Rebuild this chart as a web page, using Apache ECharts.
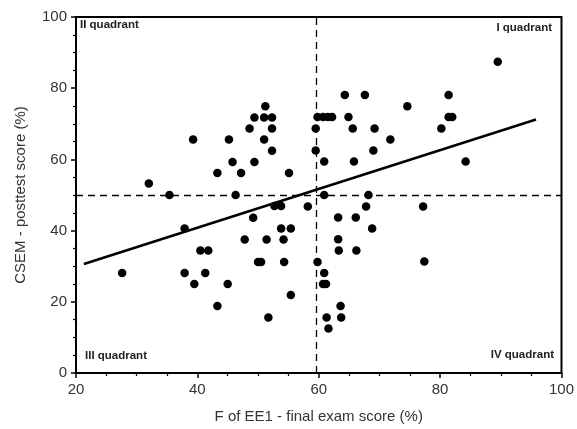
<!DOCTYPE html>
<html>
<head>
<meta charset="utf-8">
<script src="https://cdn.jsdelivr.net/npm/echarts@6/dist/echarts.min.js"></script>
<style>html,body{margin:0;padding:0;background:#fff}#c{width:577px;height:429px}</style>
</head>
<body>
<div id="c"></div>
<script>
const xValues = [27.6,32.0,35.4,37.9,37.9,39.3,39.5,40.5,41.8,41.3,43.3,43.3,45.0,45.2,45.8,46.3,47.2,47.8,48.6,49.2,49.4,49.4,50.0,50.5,51.0,51.0,51.2,51.4,51.7,52.3,52.3,52.3,52.7,53.8,53.8,54.2,54.3,55.1,55.4,55.4,58.2,
  59.5,59.5,59.8,59.8,60.7,61.5,62.2,60.9,60.9,60.9,60.7,61.2,61.3,61.6,63.2,63.2,63.3,63.6,63.7,64.3,64.9,65.6,65.8,66.1,66.2,67.6,67.8,68.2,68.8,69.0,69.2,71.8,74.6,77.2,77.4,80.2,81.4,81.4,82.0,84.2,89.5];
const yValues = [28.1,53.2,50.0,40.6,28.1,65.6,25.0,34.4,34.4,28.1,56.2,18.8,25.0,65.6,59.3,50.0,56.2,37.5,68.7,43.6,71.8,59.3,31.2,31.2,71.8,65.6,74.9,37.5,15.6,71.8,68.7,62.4,46.9,46.9,40.6,37.5,31.2,56.2,40.6,21.9,46.8,
  68.7,62.5,71.9,31.2,71.9,71.9,71.9,59.4,50.0,28.1,25.0,25.0,15.6,12.5,43.7,37.6,34.4,18.8,15.6,78.1,71.9,68.7,59.4,43.7,34.4,78.1,46.8,50.0,40.6,62.5,68.7,65.6,74.9,46.8,31.3,68.7,78.1,71.9,71.9,59.4,87.4];
const fitX = [21.3, 95.8];
const fitY = [30.6, 71.2];
const medianX = 59.6;
const medianY = 50;
const xTitle = 'F of EE1 - final exam score (%)';
const yTitle = 'CSEM - posttest score (%)';
const quadrantLabels = ['I quadrant','II quadrant','III quadrant','IV quadrant'];

const points = xValues.map((x,i)=>[x,yValues[i]]);
const fit = fitX.map((x,i)=>[x,fitY[i]]);

const chart = echarts.init(document.getElementById('c'), null, {renderer:'canvas'});
const FONT = 'Liberation Sans, Arial, sans-serif';
const axisCommon = {
  axisLine:{show:true,lineStyle:{color:'#000',width:2}},
  axisTick:{show:true,length:5,lineStyle:{color:'#000',width:1.5}},
  minorTick:{show:true,splitNumber:4,length:3,lineStyle:{color:'#000',width:1.2}},
  splitLine:{show:false},
  axisLabel:{color:'#333',fontSize:15,fontFamily:FONT,margin:9},
  nameTextStyle:{color:'#333',fontSize:15,fontFamily:FONT}
};
const qFont = 'bold 11.5px ' + FONT;
chart.setOption({
  animation:false,
  backgroundColor:'#fff',
  grid:{left:76,right:15,top:17,bottom:55,show:true,borderColor:'#000',borderWidth:2,backgroundColor:'transparent'},
  xAxis:Object.assign({type:'value',min:20,max:100,interval:20,name:xTitle,nameLocation:'middle',nameGap:36},axisCommon),
  yAxis:Object.assign({type:'value',min:0,max:100,interval:20,name:yTitle,nameLocation:'middle',nameGap:48},axisCommon),
  series:[
    {type:'scatter',data:points,symbol:'circle',symbolSize:8.5,itemStyle:{color:'#000',opacity:1},z:3,
     markLine:{silent:true,symbol:'none',label:{show:false},
       lineStyle:{color:'#000',type:[7,5],width:1.3},
       data:[{xAxis:medianX},{yAxis:medianY}]}},
    {type:'line',data:fit,symbol:'none',lineStyle:{color:'#000',width:2.5},z:4}
  ],
  graphic:[
    {type:'text',left:80,top:19,style:{text:quadrantLabels[1],font:qFont,fill:'#222'}},
    {type:'text',right:25,top:22,style:{text:quadrantLabels[0],font:qFont,fill:'#222'}},
    {type:'text',left:85,top:350,style:{text:quadrantLabels[2],font:qFont,fill:'#222'}},
    {type:'text',right:23,top:349,style:{text:quadrantLabels[3],font:qFont,fill:'#222'}}
  ]
});
</script>
</body>
</html>
